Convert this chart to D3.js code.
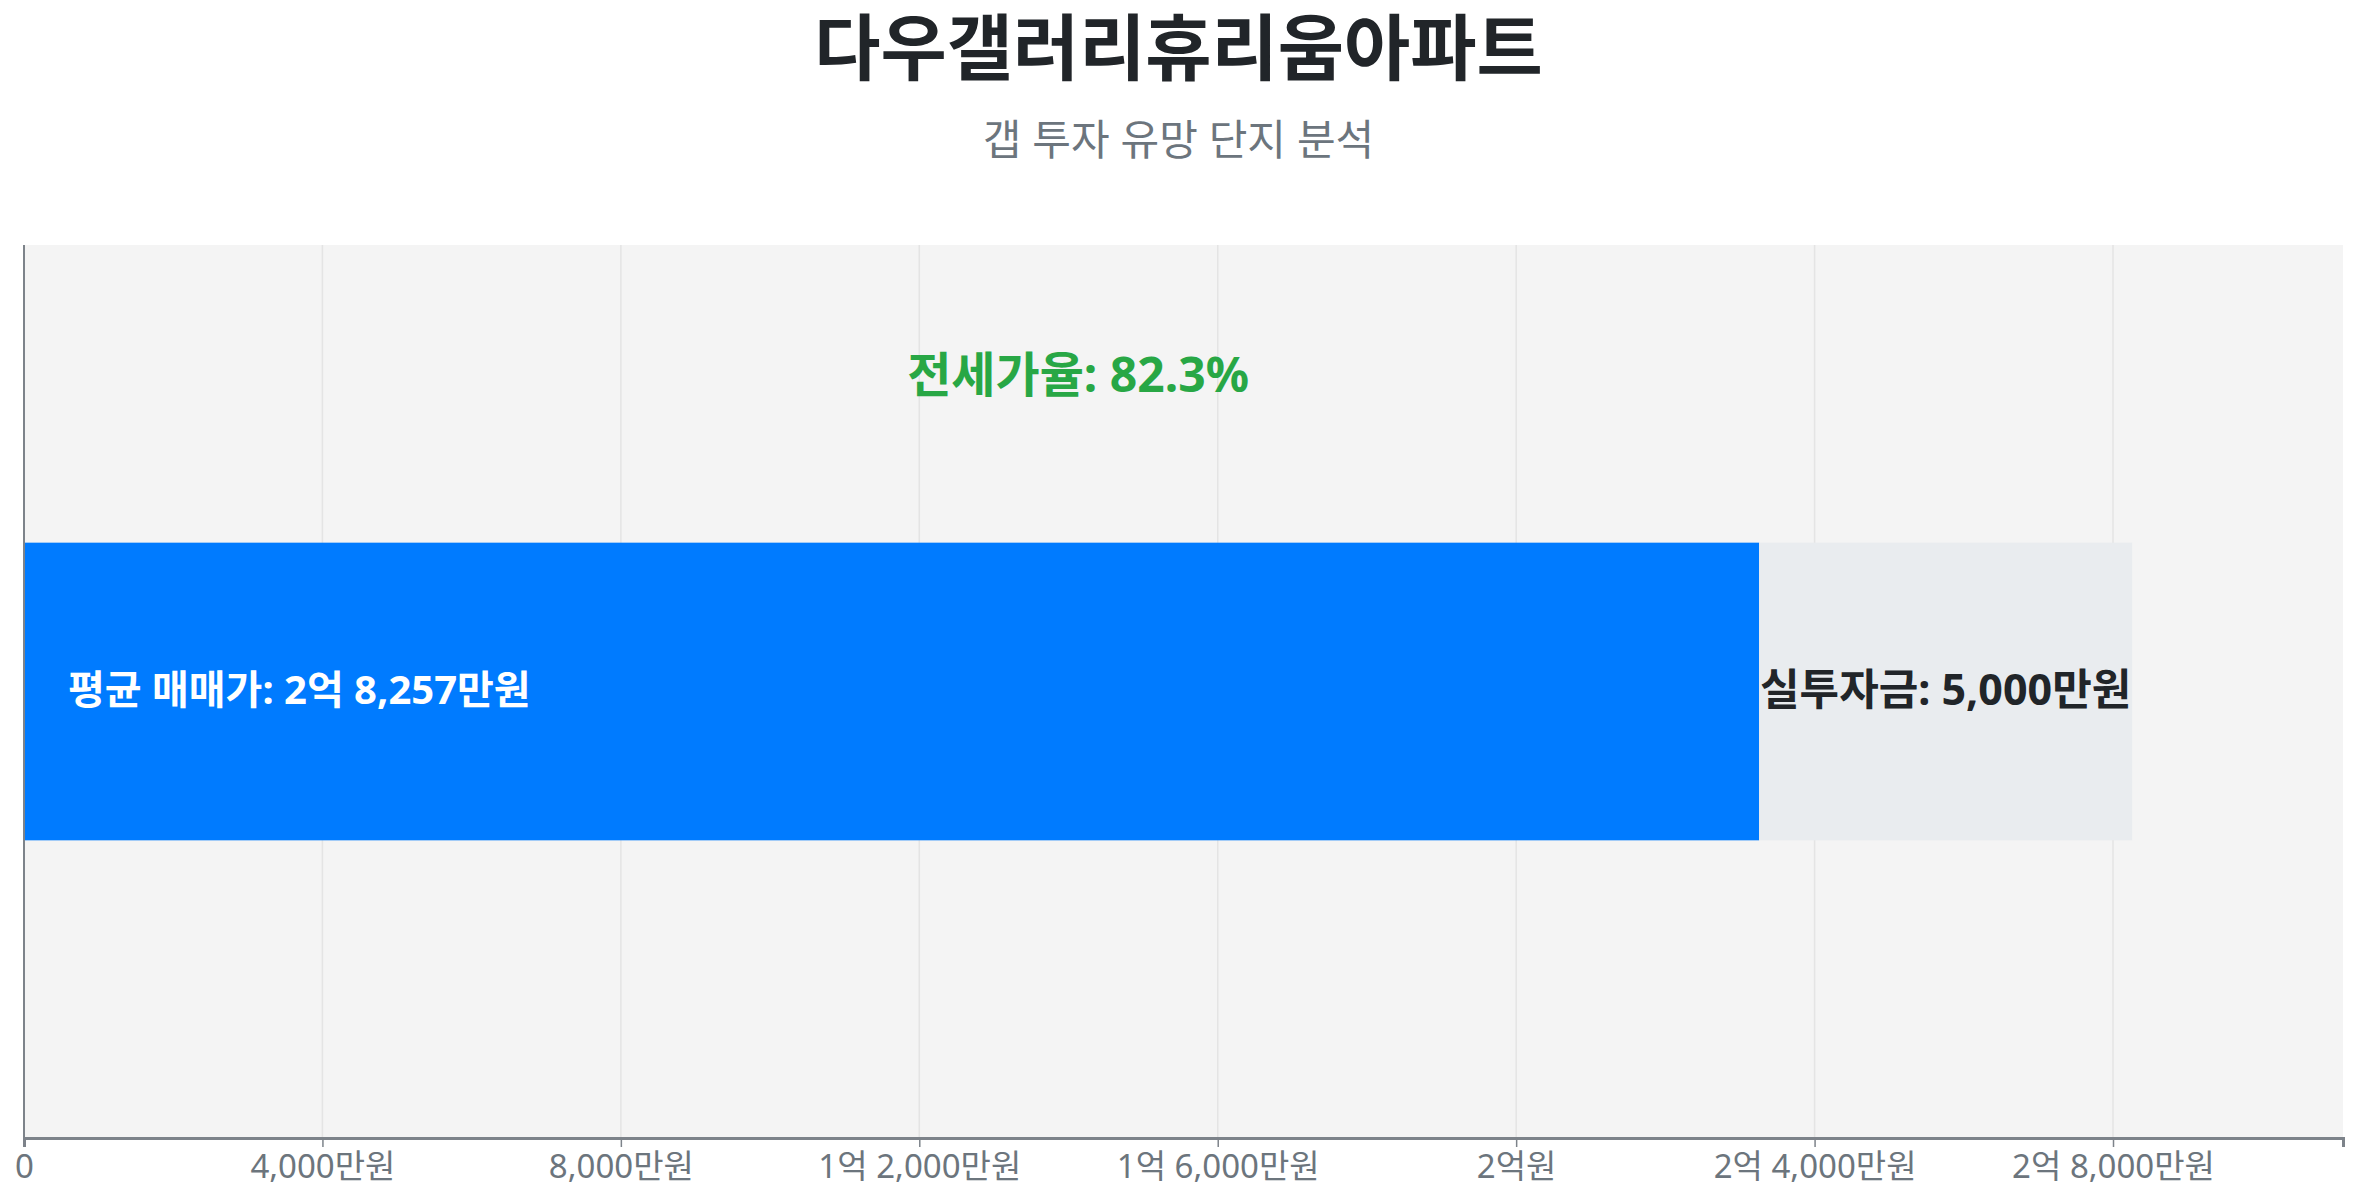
<!DOCTYPE html>
<html>
<head>
<meta charset="utf-8">
<script src="https://cdn.jsdelivr.net/npm/d3@7"></script>
<style>
  body { margin: 0; background: #fff; }
  svg text { font-family: "Noto Sans", "Noto Sans CJK KR", sans-serif; }
</style>
</head>
<body>
<div id="chart"></div>
<script>
// data
var categories = ["다우갤러리휴리움아파트"];
var jeonseValues = [23257];   // 전세가 (만원)
var gapValues = [5000];       // 실투자금 (만원)
var salePrices = [28257];     // 평균 매매가 (만원)
var jeonseRates = [82.3];     // 전세가율 (%)
var tickValues = [0, 4000, 8000, 12000, 16000, 20000, 24000, 28000];

var svgWidth = 2357;
var svgHeight = 1200;

var margin = { top: 245, right: 14, bottom: 62, left: 24 };
var width = svgWidth - margin.left - margin.right;
var height = svgHeight - margin.top - margin.bottom;

var svg = d3.select("#chart")
  .append("svg")
  .attr("width", svgWidth)
  .attr("height", svgHeight);

// format 만원 values into 억/만원 text
function formatWon(v) {
  if (v === 0) return "0";
  var eok = Math.floor(v / 10000);
  var rest = v % 10000;
  if (eok > 0 && rest > 0) return eok + "억 " + d3.format(",")(rest) + "만원";
  if (eok > 0) return eok + "억원";
  return d3.format(",")(rest) + "만원";
}

// title + subtitle
svg.append("text")
  .attr("x", svgWidth / 2)
  .attr("y", 46)
  .attr("text-anchor", "middle")
  .attr("dominant-baseline", "central")
  .attr("font-size", 72)
  .attr("font-weight", "bold")
  .attr("fill", "#212529")
  .text(categories[0]);

svg.append("text")
  .attr("x", svgWidth / 2)
  .attr("y", 138)
  .attr("text-anchor", "middle")
  .attr("dominant-baseline", "central")
  .attr("font-size", 42)
  .attr("fill", "#6c757d")
  .text("갭 투자 유망 단지 분석");

var chartGroup = svg.append("g")
  .attr("transform", `translate(${margin.left}, ${margin.top})`);

var xScale = d3.scaleLinear()
  .domain([0, d3.max(salePrices) * 1.1])
  .range([0, width]);

var yScale = d3.scaleBand()
  .domain(categories)
  .range([0, height])
  .paddingInner(0)
  .paddingOuter(1);

// plot background
chartGroup.append("rect")
  .attr("width", width)
  .attr("height", height)
  .attr("fill", "#f4f4f4");

// grid lines
chartGroup.append("g")
  .selectAll("line")
  .data(tickValues.slice(1))
  .enter()
  .append("line")
  .attr("x1", d => xScale(d))
  .attr("x2", d => xScale(d))
  .attr("y1", 0)
  .attr("y2", height)
  .attr("stroke", "#e4e4e4")
  .attr("stroke-width", 1.5);

// stacked bars
var rows = categories.map((c, i) => ({
  name: c,
  jeonse: jeonseValues[i],
  gap: gapValues[i],
  price: salePrices[i],
  rate: jeonseRates[i]
}));

chartGroup.selectAll(".jeonseBar")
  .data(rows)
  .enter()
  .append("rect")
  .classed("jeonseBar", true)
  .attr("x", xScale(0))
  .attr("y", d => yScale(d.name))
  .attr("width", d => xScale(d.jeonse) - xScale(0))
  .attr("height", yScale.bandwidth())
  .attr("fill", "#007bff");

chartGroup.selectAll(".gapBar")
  .data(rows)
  .enter()
  .append("rect")
  .classed("gapBar", true)
  .attr("x", d => xScale(d.jeonse))
  .attr("y", d => yScale(d.name))
  .attr("width", d => xScale(d.jeonse + d.gap) - xScale(d.jeonse))
  .attr("height", yScale.bandwidth())
  .attr("fill", "#e9ecef");

// bar labels
chartGroup.selectAll(".priceLabel")
  .data(rows)
  .enter()
  .append("text")
  .attr("x", xScale(0) + 44)
  .attr("y", d => yScale(d.name) + yScale.bandwidth() / 2 - 3)
  .attr("dominant-baseline", "central")
  .attr("font-size", 40)
  .attr("font-weight", "bold")
  .attr("fill", "#ffffff")
  .text(d => "평균 매매가: " + formatWon(d.price));

chartGroup.selectAll(".gapLabel")
  .data(rows)
  .enter()
  .append("text")
  .attr("x", d => (xScale(d.jeonse) + xScale(d.jeonse + d.gap)) / 2)
  .attr("y", d => yScale(d.name) + yScale.bandwidth() / 2 - 3)
  .attr("text-anchor", "middle")
  .attr("dominant-baseline", "central")
  .attr("font-size", 43)
  .attr("font-weight", "bold")
  .attr("fill", "#212529")
  .text(d => "실투자금: " + formatWon(d.gap));

chartGroup.selectAll(".rateLabel")
  .data(rows)
  .enter()
  .append("text")
  .attr("x", d => xScale(d.price / 2))
  .attr("y", d => yScale(d.name) / 2 - 20)
  .attr("text-anchor", "middle")
  .attr("dominant-baseline", "central")
  .attr("font-size", 48)
  .attr("font-weight", "bold")
  .attr("fill", "#28a745")
  .text(d => "전세가율: " + d.rate + "%");

// axes
var bottomAxis = d3.axisBottom(xScale)
  .tickValues(tickValues)
  .tickFormat(formatWon)
  .tickSize(9)
  .tickPadding(8);

var xAxis = chartGroup.append("g")
  .attr("transform", `translate(0, ${height})`)
  .call(bottomAxis);

xAxis.select(".domain").attr("stroke", "#7d838a").attr("stroke-width", 3);
xAxis.selectAll(".tick line").attr("stroke", "#7d838a").attr("stroke-width", 1.5);
xAxis.selectAll(".tick text")
  .attr("font-size", 33)
  .attr("fill", "#6c757d")
  .style("font-family", '"Noto Sans", "Noto Sans CJK KR", sans-serif');

chartGroup.append("line")
  .attr("x1", 0)
  .attr("x2", 0)
  .attr("y1", 0)
  .attr("y2", height)
  .attr("stroke", "#7d838a")
  .attr("stroke-width", 2);
</script>
</body>
</html>
